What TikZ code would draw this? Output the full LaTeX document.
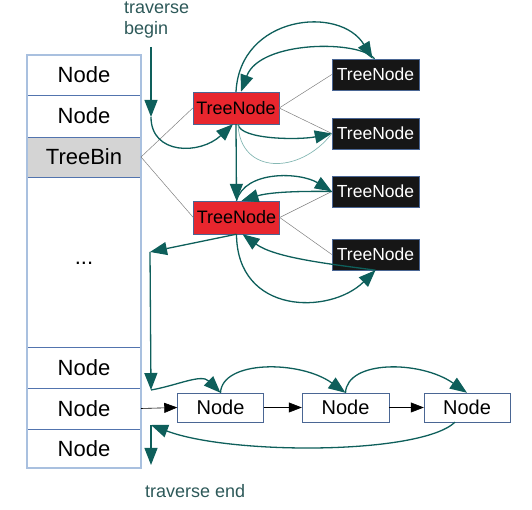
\documentclass[tikz,border=0pt]{standalone}
\usepackage{fontspec}
\setmainfont{Liberation Sans}
\usepackage{xcolor}
\usepackage{tikz}
\usetikzlibrary{arrows.meta, positioning, calc}

\definecolor{arrteal}{HTML}{0E5F5B}
\definecolor{lightteal}{HTML}{86B8B4}
\definecolor{textteal}{HTML}{2D5959}
\definecolor{sepblue}{HTML}{5274AE}
\definecolor{outerblue}{HTML}{A9C0DF}
\definecolor{edgeblue}{HTML}{4A6694}
\definecolor{treered}{HTML}{E8262E}
\definecolor{treeblack}{HTML}{161616}
\definecolor{bingray}{HTML}{D4D4D4}

\begin{document}
\begin{tikzpicture}[x=1pt,y=1pt,
    cell/.style={draw=sepblue, line width=0.6pt, minimum width=114pt, inner sep=0pt, outer sep=0pt, font=\fontsize{22}{25}\selectfont},
    rednode/.style={draw=edgeblue, fill=treered, minimum width=86pt, minimum height=32pt, inner sep=0pt, font=\fontsize{18}{21}\selectfont},
    blacknode/.style={draw=edgeblue, fill=treeblack, text=white, minimum width=87pt, minimum height=31pt, inner sep=0pt, font=\fontsize{17.5}{20}\selectfont},
    listnode/.style={draw=edgeblue, fill=white, minimum width=86pt, minimum height=29pt, inner sep=0pt, font=\fontsize{20}{23}\selectfont},
    tedge/.style={draw=gray, line width=0.5pt},
    tarrow/.style={draw=arrteal, line width=1.3pt, -{Triangle[length=17pt,width=13pt]}},
    thinarrow/.style={draw=lightteal, line width=0.7pt},
    barrow/.style={draw=black, line width=0.6pt, -{Triangle[length=13pt,width=10pt]}},
    note/.style={text=textteal, inner sep=0pt, font=\fontsize{18}{21}\selectfont}]
  \useasboundingbox (0,0) rectangle (532,510);

  % table column
  \node[cell, minimum height=40pt] (n1) at (84,435) {Node};
  \node[cell, minimum height=42pt] (n2) at (84,394) {Node};
  \node[cell, minimum height=40pt, fill=bingray] (bin) at (84,353) {TreeBin};
  \node[cell, minimum height=170pt] (dots) at (84,248) {\raisebox{-6pt}{...}};
  \node[cell, minimum height=41pt] (n3) at (84,142.5) {Node};
  \node[cell, minimum height=41pt] (n4) at (84,101.5) {Node};
  \node[cell, minimum height=39pt] (n5) at (84,61.5) {Node};
  \draw[outerblue, line width=1.2pt] (n1.north west) rectangle (n5.south east);

  % tree
  \node[rednode] (red1) at (236,402) {TreeNode};
  \node[rednode, minimum height=33pt] (red2) at (236.5,292.5) {TreeNode};
  \node[blacknode] (b1) at (375.5,435.5) {TreeNode};
  \node[blacknode] (b2) at (375.5,376.5) {TreeNode};
  \node[blacknode] (b3) at (375.5,318.5) {TreeNode};
  \node[blacknode] (b4) at (375.5,255.5) {TreeNode};

  % list
  \node[listnode] (l1) at (220.5,102.5) {Node};
  \node[listnode, minimum width=87pt] (l2) at (345.5,102.5) {Node};
  \node[listnode] (l3) at (467,102.5) {Node};

  \node[note, anchor=north west, align=left] (begin) at (124,508) {traverse\\begin};
  \node[note, anchor=west] (end) at (145,19) {traverse end};

  \coordinate (tb) at (151,463);
  \coordinate (tm) at (151,393);
  \coordinate (c1) at (150,258);
  \coordinate (c2) at (151,120);
  \coordinate (c3) at (151,85);
  \coordinate (c4) at (151,45);

  % tree edges
  \draw[tedge] (bin.east) -- (red1.west);
  \draw[tedge] (bin.east) -- (red2.west);
  \draw[tedge] (red1.east) -- (b1.west);
  \draw[tedge] (red1.east) -- (b2.west);
  \draw[tedge] (red2.east) -- (b3.west);
  \draw[tedge] (red2.east) -- (b4.west);

  % traversal
  \draw[tarrow] (tb) -- (tm);
  \draw[tarrow] (tm) .. controls (151,355) and (200,355) .. ([xshift=-3pt]red1.south);
  \draw[tarrow] (red1.north) .. controls (240,495) and (340,505) .. ([xshift=-3pt]b1.north);
  \draw[tarrow] ([xshift=-1pt]b1.north) .. controls (360,470) and (260,470) .. ([xshift=5pt]red1.north);
  \draw[tarrow] ([xshift=2pt]red1.south) .. controls (240,370) and (300,370) .. (b2.west);
  \draw[thinarrow] (b2.west) .. controls (300,335) and (240,335) .. ([xshift=2pt]red1.south);
  \draw[tarrow] (red1.south) -- (red2.north);
  \draw[tarrow] (red2.north) .. controls (245,340) and (300,338) .. (b3.west);
  \draw[tarrow] (b3.west) .. controls (300,319) and (270,318) .. ([xshift=5pt]red2.north);
  \draw[tarrow] (red2.south) .. controls (237,195) and (330,195) .. (b4.south);
  \draw[tarrow] (b4.south) .. controls (330,246) and (275,252) .. ([xshift=6pt]red2.south);
  \draw[tarrow] (red2.south) -- (c1);
  \draw[tarrow] (c1) -- (c2);
  \draw[tarrow] (c2) to[out=10,in=135] (l1.north);
  \draw[tarrow] (l1.north) .. controls (222,150) and (300,150) .. (l2.north);
  \draw[tarrow] (l2.north) .. controls (347,150) and (420,150) .. (l3.north);
  \draw[tarrow] ([xshift=-12pt]l3.south) .. controls (420,55) and (230,55) .. (c3);
  \draw[tarrow] (c3) -- (c4);

  % next links
  \draw[barrow] (n4.east) -- (l1.west);
  \draw[barrow] (l1.east) -- (l2.west);
  \draw[barrow] (l2.east) -- (l3.west);
\end{tikzpicture}
\end{document}
